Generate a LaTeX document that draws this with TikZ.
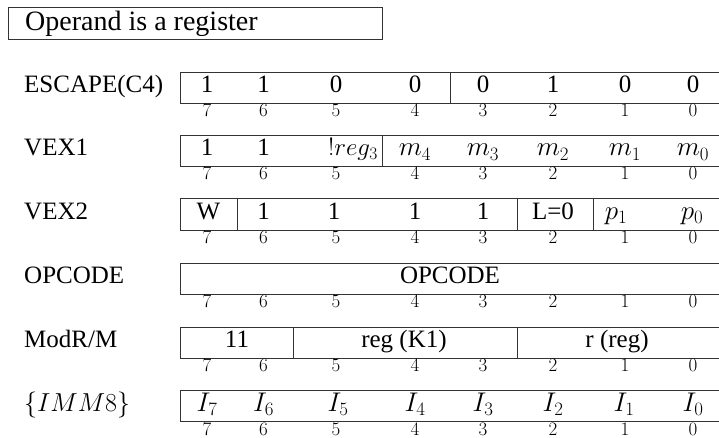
\RequirePackage{fix-cm}
\documentclass[tikz,border=0pt]{standalone}
\usepackage{fontspec}
\setmainfont{Liberation Serif}
\begin{document}
\begin{tikzpicture}[x=1pt,y=-1pt,
  frame/.style={draw=black!80,line width=0.9pt,inner sep=0pt,anchor=north west},
  regbox/.style={frame,minimum width=541pt,minimum height=31pt},
  divider/.style={draw=black!80,line width=0.9pt},
  val/.style={anchor=base,inner sep=0pt,font=\fontsize{25}{30}\selectfont},
  mval/.style={anchor=base,inner sep=0pt,font=\fontsize{27}{32}\selectfont},
  bitn/.style={anchor=base,inner sep=0pt,font=\fontsize{19}{22}\selectfont},
  lab/.style={anchor=base west,inner sep=0pt,font=\fontsize{25}{30}\selectfont}]
\useasboundingbox (0,0) rectangle (719,438);
% title
\node[frame,minimum width=374pt,minimum height=32pt] (title) at (7.5,7.5) {};
\node[anchor=base west,inner sep=0pt,font=\fontsize{28}{32}\selectfont] (titletext) at (25,31) {Operand is a register};

% boxes
\node[regbox] (esc) at (180,72) {};
\node[regbox] (vexa) at (180,135) {};
\node[regbox] (vexb) at (180,198.5) {};
\node[regbox] (opc) at (180,262.5) {};
\node[regbox] (modrm) at (180,326.5) {};
\node[regbox] (imm) at (180,390) {};

% labels
\node[lab] (lesc) at (24,93) {ESCAPE(C4)};
\node[lab] (lvexa) at (24,156) {VEX1};
\node[lab] (lvexb) at (24,219.5) {VEX2};
\node[lab] (lopc) at (24,283.5) {OPCODE};
\node[lab] (lmodrm) at (24,347.5) {ModR/M};
\node[lab,font=\fontsize{26}{30}\selectfont] (limm) at (24,411) {$\{IMM8\}$};

% bit numbers
\foreach \n/\x in {7/207,6/263.5,5/336,4/415,3/483,2/553,1/625,0/693}{
  \foreach \yy in {117,180,243.5,307.5,371.5,435}{
    \node[bitn] (b\n-\yy) at (\x,\yy) {$\n$};
  }
}

% dividers
\draw[divider] (450,72) -- (450,103);
\draw[divider] (382,135) -- (382,166);
\draw[divider] (237,198.5) -- (237,229.5);
\draw[divider] (517,198.5) -- (517,229.5);
\draw[divider] (593,198.5) -- (593,229.5);
\draw[divider] (293,326.5) -- (293,357.5);
\draw[divider] (517,326.5) -- (517,357.5);

% ESCAPE values
\foreach \v/\x [count=\i] in {1/207,1/263.5,0/336,0/415,0/483,1/553,0/625,0/693}{
  \node[val] (e\i) at (\x,93) {\v};
}
% VEX1 values
\node[val] (va1) at (207,156) {1};
\node[val] (va2) at (263.5,156) {1};
\node[val] (va3) at (353,156) {$!reg_3$};
\node[mval] (va4) at (415,156) {$m_4$};
\node[mval] (va5) at (483,156) {$m_3$};
\node[mval] (va6) at (553,156) {$m_2$};
\node[mval] (va7) at (625,156) {$m_1$};
\node[mval] (va8) at (693,156) {$m_0$};
% VEX2 values
\node[val] (vb1) at (208.5,219.5) {W};
\node[val] (vb2) at (263.5,219.5) {1};
\node[val] (vb3) at (334,219.5) {1};
\node[val] (vb4) at (415,219.5) {1};
\node[val] (vb5) at (483,219.5) {1};
\node[val] (vb6) at (553,219.5) {L=0};
\node[mval] (vb7) at (616,219.5) {$p_1$};
\node[mval] (vb8) at (692,219.5) {$p_0$};
% OPCODE
\node[val] (op) at (450,283.5) {OPCODE};
% ModR/M
\node[val] (m1) at (237,347.5) {11};
\node[val] (m2) at (404,347.5) {reg (K1)};
\node[val] (m3) at (617,347.5) {r (reg)};
% IMM8
\foreach \n/\x in {7/207,6/263.5,5/338,4/415,3/483,2/553,1/624,0/693}{
  \node[mval] (i\n) at (\x,411) {$I_\n$};
}
\end{tikzpicture}
\end{document}
